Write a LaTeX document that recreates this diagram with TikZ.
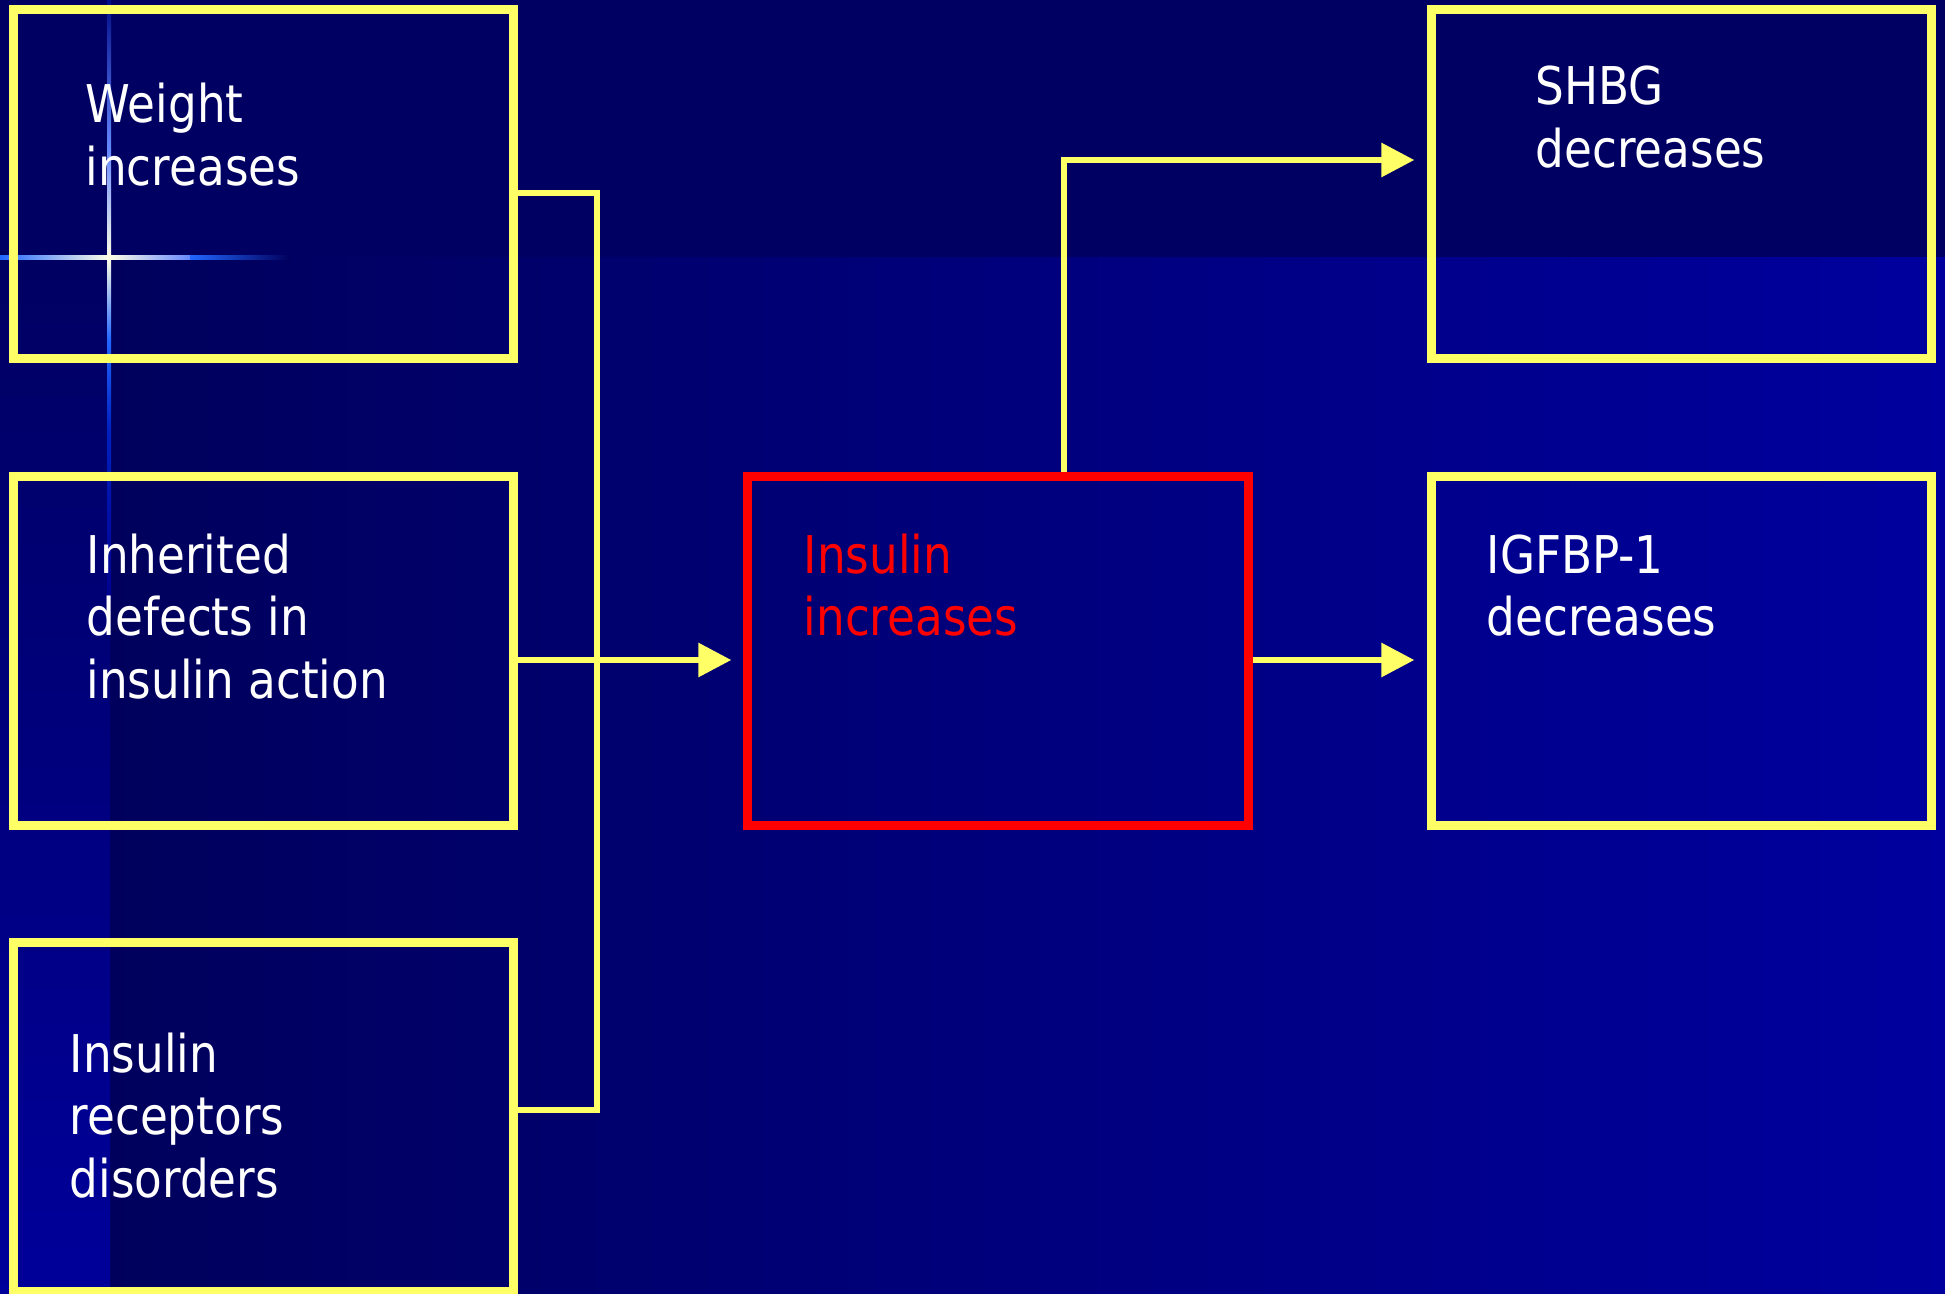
\documentclass[tikz,border=0pt]{standalone}
\usepackage{fontspec}
\setmainfont[FakeStretch=0.87]{DejaVu Sans}
\usetikzlibrary{arrows.meta,calc}

\definecolor{bandtop}{HTML}{000062}
\definecolor{gradleft}{HTML}{00005C}
\definecolor{gradright}{HTML}{00009E}
\definecolor{stripbot}{HTML}{00009A}
\definecolor{boxyellow}{HTML}{FFFF66}
\definecolor{boxred}{HTML}{FF0000}
\definecolor{glowcore}{HTML}{FFFFE6}
\definecolor{glowblue}{HTML}{2266FF}
\definecolor{glowpale}{HTML}{6688FF}
\definecolor{glowdeep}{HTML}{0020C0}

\newcommand{\boxlines}[1]{\begin{tabular}[t]{@{}l@{}}#1\end{tabular}}

\tikzset{
  panel/.style={draw=boxyellow, line width=0.09cm, rectangle, inner sep=0pt,
                minimum width=5cm, minimum height=3.49cm},
  hotpanel/.style={panel, draw=boxred},
  label/.style={anchor=base west, inner sep=0pt, text=white,
                font=\fontsize{14.8pt}{17.8pt}\selectfont},
  conn/.style={draw=boxyellow, line width=0.06cm, line join=miter},
  flow/.style={conn, -{Triangle[length=0.33cm,width=0.33cm]}},
}

\begin{document}
\begin{tikzpicture}[x=0.01cm, y=-0.01cm]
  \useasboundingbox (0,0) rectangle (1945,1294);

  % slide background: dark band on top, blue gradient below, lighter strip at left
  \fill[bandtop] (0,0) rectangle (1945,258);
  \shade[left color=gradleft, right color=gradright] (110,258) rectangle (1945,1294);
  \shade[top color=bandtop, bottom color=stripbot] (0,258) rectangle (110,1294);

  % glint where the band meets the strip
  \shade[left color=glowblue, right color=glowcore] (0,256) rectangle (109,260);
  \shade[left color=glowcore, right color=glowpale] (109,256) rectangle (190,260);
  \shade[left color=glowblue, right color=gradleft] (190,256) rectangle (290,260);
  \shade[top color=bandtop!60!glowdeep, bottom color=glowpale] (107,0) rectangle (111,150);
  \shade[top color=glowpale, bottom color=glowcore] (107,150) rectangle (111,258);
  \shade[top color=glowcore, bottom color=glowblue] (107,258) rectangle (111,340);
  \shade[top color=glowblue, bottom color=glowdeep] (107,340) rectangle (111,430);
  \shade[top color=glowdeep, bottom color=stripbot!80!gradleft] (107,430) rectangle (111,600);

  % boxes
  \node[panel]    (w)    at (263.5,184)  {};
  \node[panel]    (inh)  at (263.5,651)  {};
  \node[panel]    (rec)  at (263.5,1117) {};
  \node[hotpanel] (ins)  at (998,651)    {};
  \node[panel]    (shbg) at (1681.5,184) {};
  \node[panel]    (igf)  at (1681.5,651) {};

  % box texts
  \node[label] (wt)    at (85,123)    {\boxlines{Weight\\increases}};
  \node[label] (inht)  at (86,573)    {\boxlines{Inherited\\defects in\\insulin action}};
  \node[label] (rect)  at (69,1072)   {\boxlines{Insulin\\receptors\\disorders}};
  \node[label, text=boxred] (inst) at (803,573) {\boxlines{Insulin\\increases}};
  \node[label] (shbgt) at (1535,105)  {\boxlines{SHBG\\decreases}};
  \node[label] (igft)  at (1486,573)  {\boxlines{IGFBP-1\\decreases}};

  % collecting bus on the left
  \coordinate (bt) at (597,193);
  \coordinate (bb) at (597,1110);
  \draw[conn] ($(w.east)+(0,9)$) -- (bt) -- (bb) -- ($(rec.east)+(0,-7)$);

  % arrows
  \draw[flow] ($(inh.east)+(0,9)$) -- ($(ins.west)+(-12,9)$);
  \draw[flow] ($(ins.north)+(66,0)$) |- ($(shbg.west)+(-12.5,-24)$);
  \draw[flow] ($(ins.east)+(0,9)$) -- ($(igf.west)+(-12.5,9)$);
\end{tikzpicture}
\end{document}
